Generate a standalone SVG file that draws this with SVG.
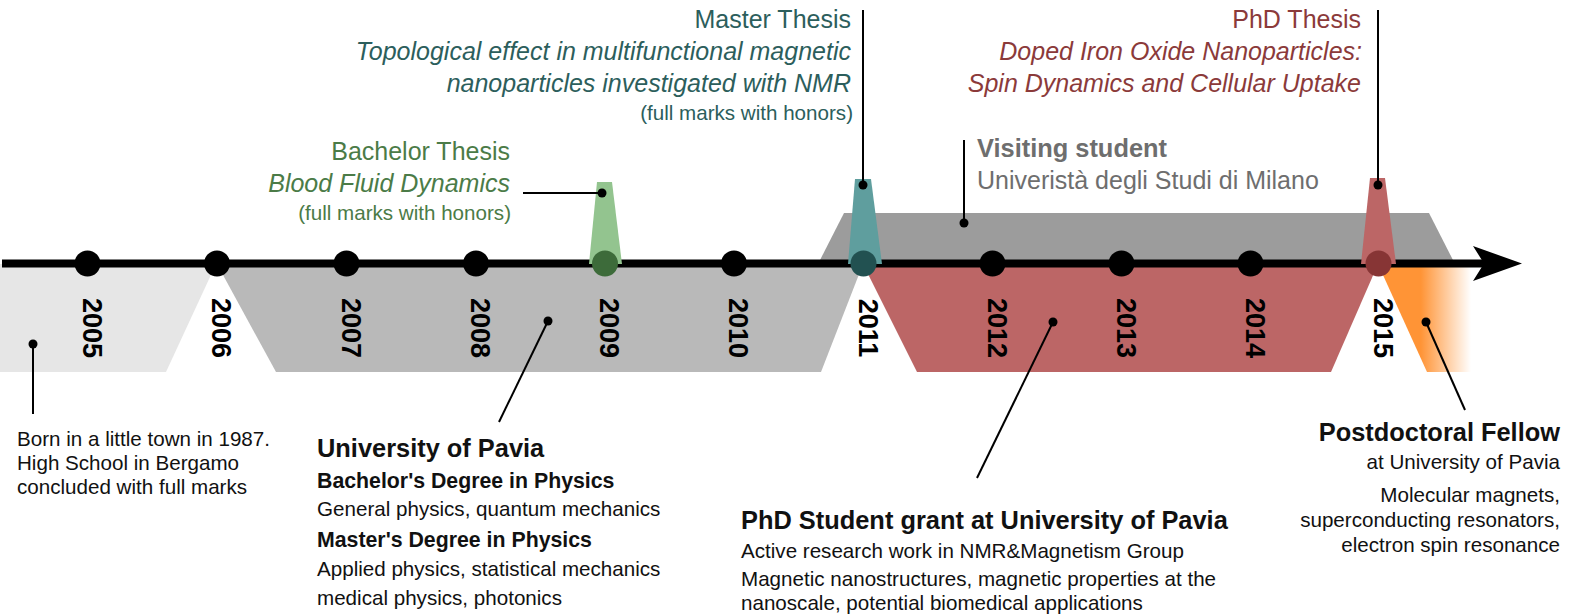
<svg xmlns="http://www.w3.org/2000/svg" width="1571" height="615" viewBox="0 0 1571 615">
<defs>
<style>
text{font-family:"Liberation Sans",Arial,sans-serif;}
.year{font-size:27px;font-weight:bold;fill:#000;text-anchor:middle;}
.t25{font-size:25.4px;}
.r25{font-size:25px;}
.t21{font-size:21.3px;}
.t20{font-size:20.6px;}
.b{font-weight:bold;}
.i{font-style:italic;}
.end{text-anchor:end;}
.blk{fill:#111;}
.conn line{stroke:#000;stroke-width:2;}
.conn circle{fill:#000;}
.ydot{fill:#000;}
</style>
<linearGradient id="og" gradientUnits="userSpaceOnUse" x1="1378" y1="0" x2="1471" y2="0">
<stop offset="0" stop-color="#ff9436"/>
<stop offset="0.46" stop-color="#ff9436"/>
<stop offset="1" stop-color="#ff9436" stop-opacity="0"/>
</linearGradient>
</defs>

<g id="visiting-student">
<polygon points="818,264 844,213 1429,213 1455,264" fill="#9c9c9c"/>
<text class="t25 b" x="977" y="157" fill="#6e6e6e">Visiting student</text>
<text class="r25" x="977" y="189" fill="#6e6e6e">Univeristà degli Studi di Milano</text>
</g>

<g id="school">
<polygon points="0,264 216,264 166,372 0,372" fill="#e6e6e6"/>
<text class="t20 blk" x="17" y="446">Born in a little town in 1987.</text>
<text class="t20 blk" x="17" y="470">High School in Bergamo</text>
<text class="t20 blk" x="17" y="494">concluded with full marks</text>
</g>

<g id="university">
<polygon points="217,264 863,264 821,372 276,372" fill="#b9b9b9"/>
<text class="t25 b blk" x="317" y="457">University of Pavia</text>
<text class="t21 b blk" x="317" y="488">Bachelor's Degree in Physics</text>
<text class="t20 blk" x="317" y="516">General physics, quantum mechanics</text>
<text class="t21 b blk" x="317" y="547">Master's Degree in Physics</text>
<text class="t20 blk" x="317" y="576">Applied physics, statistical mechanics</text>
<text class="t20 blk" x="317" y="605">medical physics, photonics</text>
</g>

<g id="phd-student">
<polygon points="863,264 1378,264 1331,372 917,372" fill="#bc6666"/>
<text class="t25 b blk" x="741" y="529">PhD Student grant at University of Pavia</text>
<text class="t20 blk" x="741" y="558">Active research work in NMR&amp;Magnetism Group</text>
<text class="t20 blk" x="741" y="586">Magnetic nanostructures, magnetic properties at the</text>
<text class="t20 blk" x="741" y="610">nanoscale, potential biomedical applications</text>
</g>

<g id="postdoc">
<polygon points="1378,264 1471,264 1471,372 1427,372" fill="url(#og)"/>
<text class="t25 b blk end" x="1560" y="441">Postdoctoral Fellow</text>
<text class="t20 blk end" x="1560" y="469">at University of Pavia</text>
<text class="t20 blk end" x="1560" y="502">Molecular magnets,</text>
<text class="t20 blk end" x="1560" y="527">superconducting resonators,</text>
<text class="t20 blk end" x="1560" y="552">electron spin resonance</text>
</g>

<g id="axis">
<line x1="2" y1="263.5" x2="1485" y2="263.5" stroke="#000" stroke-width="8"/>
<polygon points="1473,246 1522,263.5 1473,281 1484,263.5" fill="#000"/>
</g>

<g id="bachelor-thesis">
<polygon points="597,182 612,182 622,264 589,264" fill="#93c48f"/>
<text class="r25 end" x="510" y="160" fill="#4b7b47">Bachelor Thesis</text>
<text class="r25 i end" x="510" y="192" fill="#4b7b47">Blood Fluid Dynamics</text>
<text class="t20 end" x="511" y="220" fill="#4b7b47">(full marks with honors)</text>
</g>

<g id="master-thesis">
<polygon points="855,179 871,179 882,264 848,264" fill="#5f9e9e"/>
<text class="r25 end" x="851" y="28" fill="#2c5e5c">Master Thesis</text>
<text class="r25 i end" x="851" y="60" fill="#2c5e5c">Topological effect in multifunctional magnetic</text>
<text class="r25 i end" x="851" y="92" fill="#2c5e5c">nanoparticles investigated with NMR</text>
<text class="t20 end" x="853" y="120" fill="#2c5e5c">(full marks with honors)</text>
</g>

<g id="phd-thesis">
<polygon points="1370,178 1385,178 1396,264 1361,264" fill="#bc6666"/>
<text class="r25 end" x="1361" y="28" fill="#8b3a3a">PhD Thesis</text>
<text class="r25 i end" x="1362" y="60" fill="#8b3a3a">Doped Iron Oxide Nanoparticles:</text>
<text class="r25 i end" x="1361" y="92" fill="#8b3a3a">Spin Dynamics and Cellular Uptake</text>
</g>

<g id="years">
<circle class="ydot" cx="87.5" cy="263.5" r="13"/>
<circle class="ydot" cx="217" cy="263.5" r="13"/>
<circle class="ydot" cx="346.5" cy="263.5" r="13"/>
<circle class="ydot" cx="476" cy="263.5" r="13"/>
<circle cx="605" cy="263.5" r="13" fill="#3d6b3a"/>
<circle class="ydot" cx="734" cy="263.5" r="13"/>
<circle cx="863.5" cy="263.5" r="13" fill="#225151"/>
<circle class="ydot" cx="992.5" cy="263.5" r="13"/>
<circle class="ydot" cx="1121.5" cy="263.5" r="13"/>
<circle class="ydot" cx="1250.5" cy="263.5" r="13"/>
<circle cx="1378.5" cy="263.5" r="13" fill="#873535"/>
<text class="year" transform="translate(82.5,328) rotate(90)">2005</text>
<text class="year" transform="translate(212,328) rotate(90)">2006</text>
<text class="year" transform="translate(341.5,328) rotate(90)">2007</text>
<text class="year" transform="translate(471,328) rotate(90)">2008</text>
<text class="year" transform="translate(600,328) rotate(90)">2009</text>
<text class="year" transform="translate(729,328) rotate(90)">2010</text>
<text class="year" transform="translate(858.5,328) rotate(90)">2011</text>
<text class="year" transform="translate(987.5,328) rotate(90)">2012</text>
<text class="year" transform="translate(1116.5,328) rotate(90)">2013</text>
<text class="year" transform="translate(1245.5,328) rotate(90)">2014</text>
<text class="year" transform="translate(1373.5,328) rotate(90)">2015</text>
</g>

<g id="connectors" class="conn">
<line x1="33" y1="344" x2="33" y2="414"/><circle cx="33" cy="344" r="4.5"/>
<line x1="548" y1="321" x2="499" y2="422"/><circle cx="548" cy="321" r="4.5"/>
<line x1="1053" y1="322" x2="977" y2="478"/><circle cx="1053" cy="322" r="4.5"/>
<line x1="1426" y1="322" x2="1465" y2="410"/><circle cx="1426" cy="322" r="4.5"/>
<line x1="523" y1="193" x2="602" y2="193"/><circle cx="602" cy="193" r="4.5"/>
<line x1="863" y1="10" x2="863" y2="185"/><circle cx="863" cy="185" r="4.5"/>
<line x1="1378" y1="10" x2="1378" y2="185"/><circle cx="1378" cy="185" r="4.5"/>
<line x1="964" y1="140" x2="964" y2="223"/><circle cx="964" cy="223" r="4.5"/>
</g>
</svg>
